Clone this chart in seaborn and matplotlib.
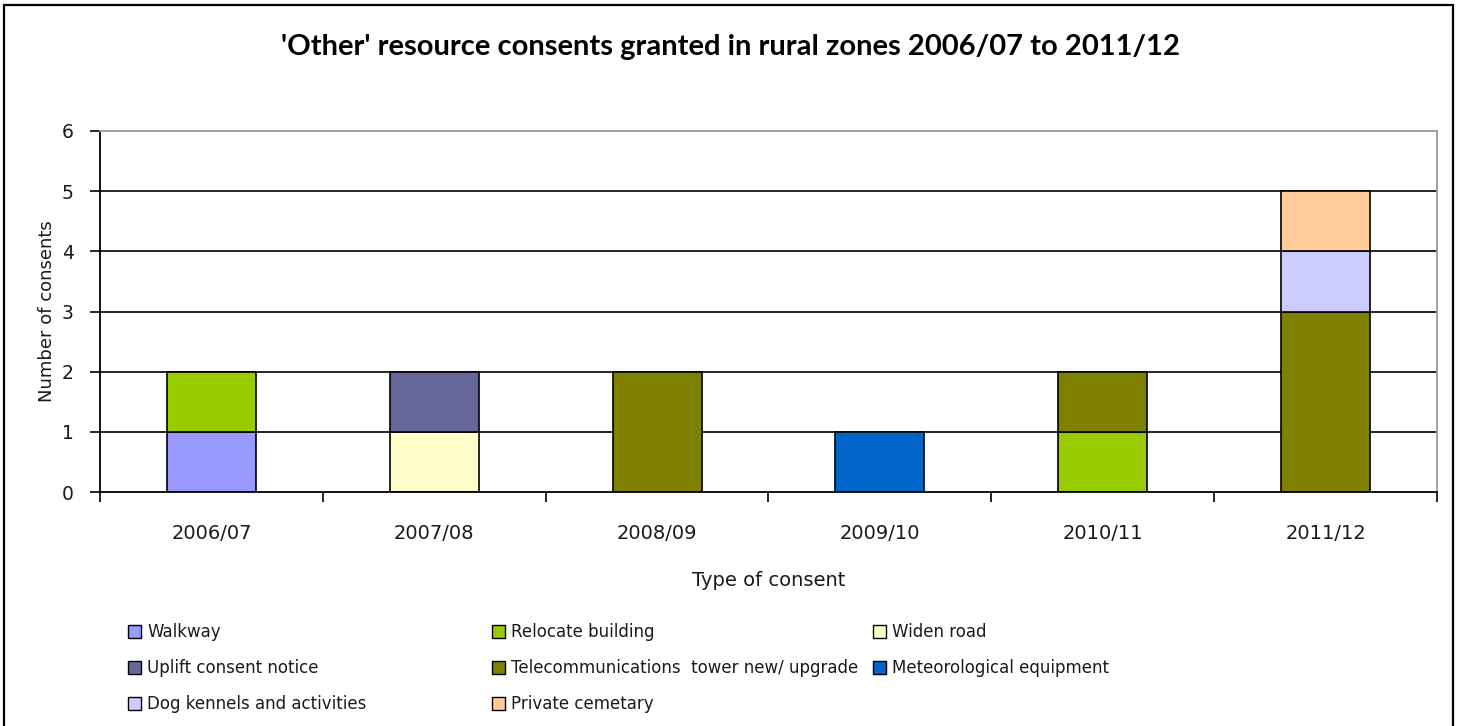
import matplotlib
matplotlib.use("Agg")
import matplotlib.pyplot as plt
from matplotlib.patches import Patch, Rectangle
import numpy as np
import pandas as pd
import seaborn as sns

# Financial years on the category axis
years = ["2006/07", "2007/08", "2008/09", "2009/10", "2010/11", "2011/12"]

# Consent types, stacked bottom to top in this order
walkway = [1, 0, 0, 0, 0, 0]
relocate_building = [1, 0, 0, 0, 1, 0]
widen_road = [0, 1, 0, 0, 0, 0]
uplift_consent_notice = [0, 1, 0, 0, 0, 0]
telecom_tower = [0, 0, 2, 0, 1, 3]
meteorological_equipment = [0, 0, 0, 1, 0, 0]
dog_kennels = [0, 0, 0, 0, 0, 1]
private_cemetary = [0, 0, 0, 0, 0, 1]

series_names = [
    "Walkway",
    "Relocate building",
    "Widen road",
    "Uplift consent notice",
    "Telecommunications  tower new/ upgrade",
    "Meteorological equipment",
    "Dog kennels and activities",
    "Private cemetary",
]
series_values = [
    walkway, relocate_building, widen_road, uplift_consent_notice,
    telecom_tower, meteorological_equipment, dog_kennels, private_cemetary,
]
series_colors = [
    "#9999FF", "#99CC00", "#FFFFCC", "#666699",
    "#808000", "#0066CC", "#CCCCFF", "#FFCC99",
]

sns.set_theme(style="white")
plt.rcParams["font.family"] = ["DejaVu Sans"]
plt.rcParams["text.color"] = "#1a1a1a"
plt.rcParams["axes.labelcolor"] = "#1a1a1a"
plt.rcParams["xtick.color"] = "black"
plt.rcParams["ytick.color"] = "black"
plt.rcParams["xtick.labelcolor"] = "#1a1a1a"
plt.rcParams["ytick.labelcolor"] = "#1a1a1a"

fig = plt.figure(figsize=(14.61, 7.26), dpi=100)
ax = fig.add_axes([100 / 1461, 234 / 726, 1337 / 1461, 361 / 726])

# Horizontal gridlines behind the bars
ax.set_axisbelow(True)
for yv in range(1, 6):
    ax.axhline(yv, color="black", lw=1.2, zorder=0)

bottoms = np.zeros(len(years))
for name, vals, col in zip(series_names, series_values, series_colors):
    vals = np.asarray(vals, dtype=float)
    mask = vals > 0
    if mask.any():
        df = pd.DataFrame({"year": np.array(years)[mask], "count": vals[mask]})
        sns.barplot(
            data=df, x="year", y="count", order=years, ax=ax,
            color=col, saturation=1, width=0.4, errorbar=None,
            bottom=bottoms[mask], edgecolor="black", linewidth=1.2, zorder=2,
        )
    bottoms += vals

ax.set_xlim(-0.5, 5.5)
ax.set_ylim(0, 6)
ax.set_yticks(range(0, 7))
ax.set_xticks(range(len(years)))
ax.set_xticklabels(years)
ax.set_xticks(np.arange(-0.5, 6.0, 1.0), minor=True)
ax.tick_params(axis="x", which="major", length=0, pad=23, labelsize=14)
ax.tick_params(axis="x", which="minor", length=7, width=1.2,
               direction="out", bottom=True)
ax.tick_params(axis="y", which="major", length=7, width=1.2,
               direction="out", left=True, labelsize=13.5, pad=12)

for side in ["left", "bottom"]:
    ax.spines[side].set_color("black")
    ax.spines[side].set_linewidth(1.3)
for side in ["top", "right"]:
    ax.spines[side].set_color("#9a9a9a")
    ax.spines[side].set_linewidth(1.3)

ax.set_xlabel("Type of consent", fontsize=14, labelpad=20)
ax.set_ylabel("Number of consents", fontsize=13, labelpad=4)

fig.text(0.5, 1 - 47 / 726, "'Other' resource consents granted in rural zones 2006/07 to 2011/12",
         ha="center", va="center", fontsize=21, fontweight="bold", color="black",
         family=["Lato", "DejaVu Sans"])

# Legend laid out in three fixed columns, filled row by row
col_x = [128 / 1461, 492 / 1461, 873 / 1461]
for c in range(3):
    idx = [i for i in range(len(series_names)) if i % 3 == c]
    handles = [Patch(facecolor=series_colors[i], edgecolor="black", linewidth=1.0)
               for i in idx]
    labels = [series_names[i] for i in idx]
    fig.legend(handles, labels, loc="upper left",
               bbox_to_anchor=(col_x[c], 1 - 623 / 726), frameon=False,
               fontsize=12, handlelength=0.8, handleheight=0.8,
               handletextpad=0.35, labelspacing=1.08, borderpad=0, borderaxespad=0)

# Outer chart frame
fig.patches.append(Rectangle((4 / 1461, -0.01), 1449 / 1461, 1 - 5 / 726 + 0.01,
                             transform=fig.transFigure, fill=False,
                             edgecolor="black", linewidth=1.6))

fig.savefig("out.png", dpi=100)
